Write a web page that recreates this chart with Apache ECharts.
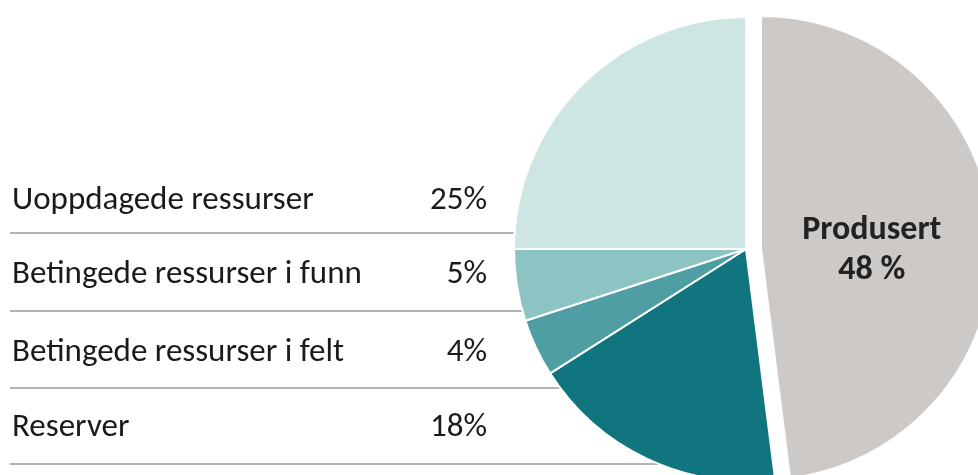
<!DOCTYPE html>
<html>
<head>
<meta charset="utf-8">
<script src="https://cdn.jsdelivr.net/npm/echarts@6/dist/echarts.min.js"></script>
<style>
  html, body { margin: 0; padding: 0; background: #fff; }
  #main { width: 978px; height: 475px; }
</style>
</head>
<body>
<div id="main"></div>
<script>
// pie order, clockwise from 12 o'clock
var categories = ["Produsert", "Reserver", "Betingede ressurser i felt", "Betingede ressurser i funn", "Uoppdagede ressurser"];
var values = [48, 18, 4, 5, 25];
var colors = ["#ccc9c7", "#10757f", "#4f9ea3", "#8cc4c4", "#cde6e3"];

var cx = 746, cy = 249, r = 232;
var font = "Carlito, Lato, sans-serif";

var chart = echarts.init(document.getElementById("main"));

// left side list: rows from top = reverse pie order, without Produsert
var rows = [];
for (var i = categories.length - 1; i >= 1; i--) rows.push(i);

var graphic = [];
var rowY = [199, 273, 351, 426];
var lineY = [233, 311, 388, 464];
rows.forEach(function (idx, k) {
  graphic.push({
    type: "text", x: 12, y: rowY[k] + 2,
    style: { text: categories[idx], font: "33px " + font, fill: "#1a1a1a", textVerticalAlign: "middle" }
  });
  graphic.push({
    type: "text", x: 487, y: rowY[k] + 2,
    style: { text: values[idx] + "%", font: "33px " + font, fill: "#1a1a1a", textAlign: "right", textVerticalAlign: "middle" }
  });
  var dy = lineY[k] - cy;
  var xe = cx - Math.sqrt(r * r - dy * dy) + 2;
  graphic.push({
    type: "line", z: -1,
    shape: { x1: 10, y1: lineY[k], x2: xe, y2: lineY[k] },
    style: { stroke: "#9a9a9a", lineWidth: 1.5 }
  });
});

var option = {
  animation: false,
  graphic: graphic,
  series: [{
    type: "pie",
    center: [cx, cy],
    radius: r,
    startAngle: 90,
    clockwise: true,
    selectedMode: "single",
    selectedOffset: 15,
    emphasis: { disabled: true },
    itemStyle: { borderColor: "#fff", borderWidth: 2 },
    labelLine: { show: false },
    label: { show: false },
    data: categories.map(function (c, i) {
      var d = { name: c, value: values[i], itemStyle: { color: colors[i] } };
      if (i === 0) {
        d.selected = true;
        d.label = {
          show: true, position: "inside",
          // empty spacer line pushes the text a bit lower
          formatter: "{s|}\n{b}\n{c} %",
          fontFamily: font, fontWeight: "bold", fontSize: 34,
          lineHeight: 40, color: "#222",
          padding: [0, 16, 0, 0],
          rich: { s: { height: 20, lineHeight: 20 } }
        };
      }
      return d;
    })
  }]
};
chart.setOption(option);
</script>
</body>
</html>
